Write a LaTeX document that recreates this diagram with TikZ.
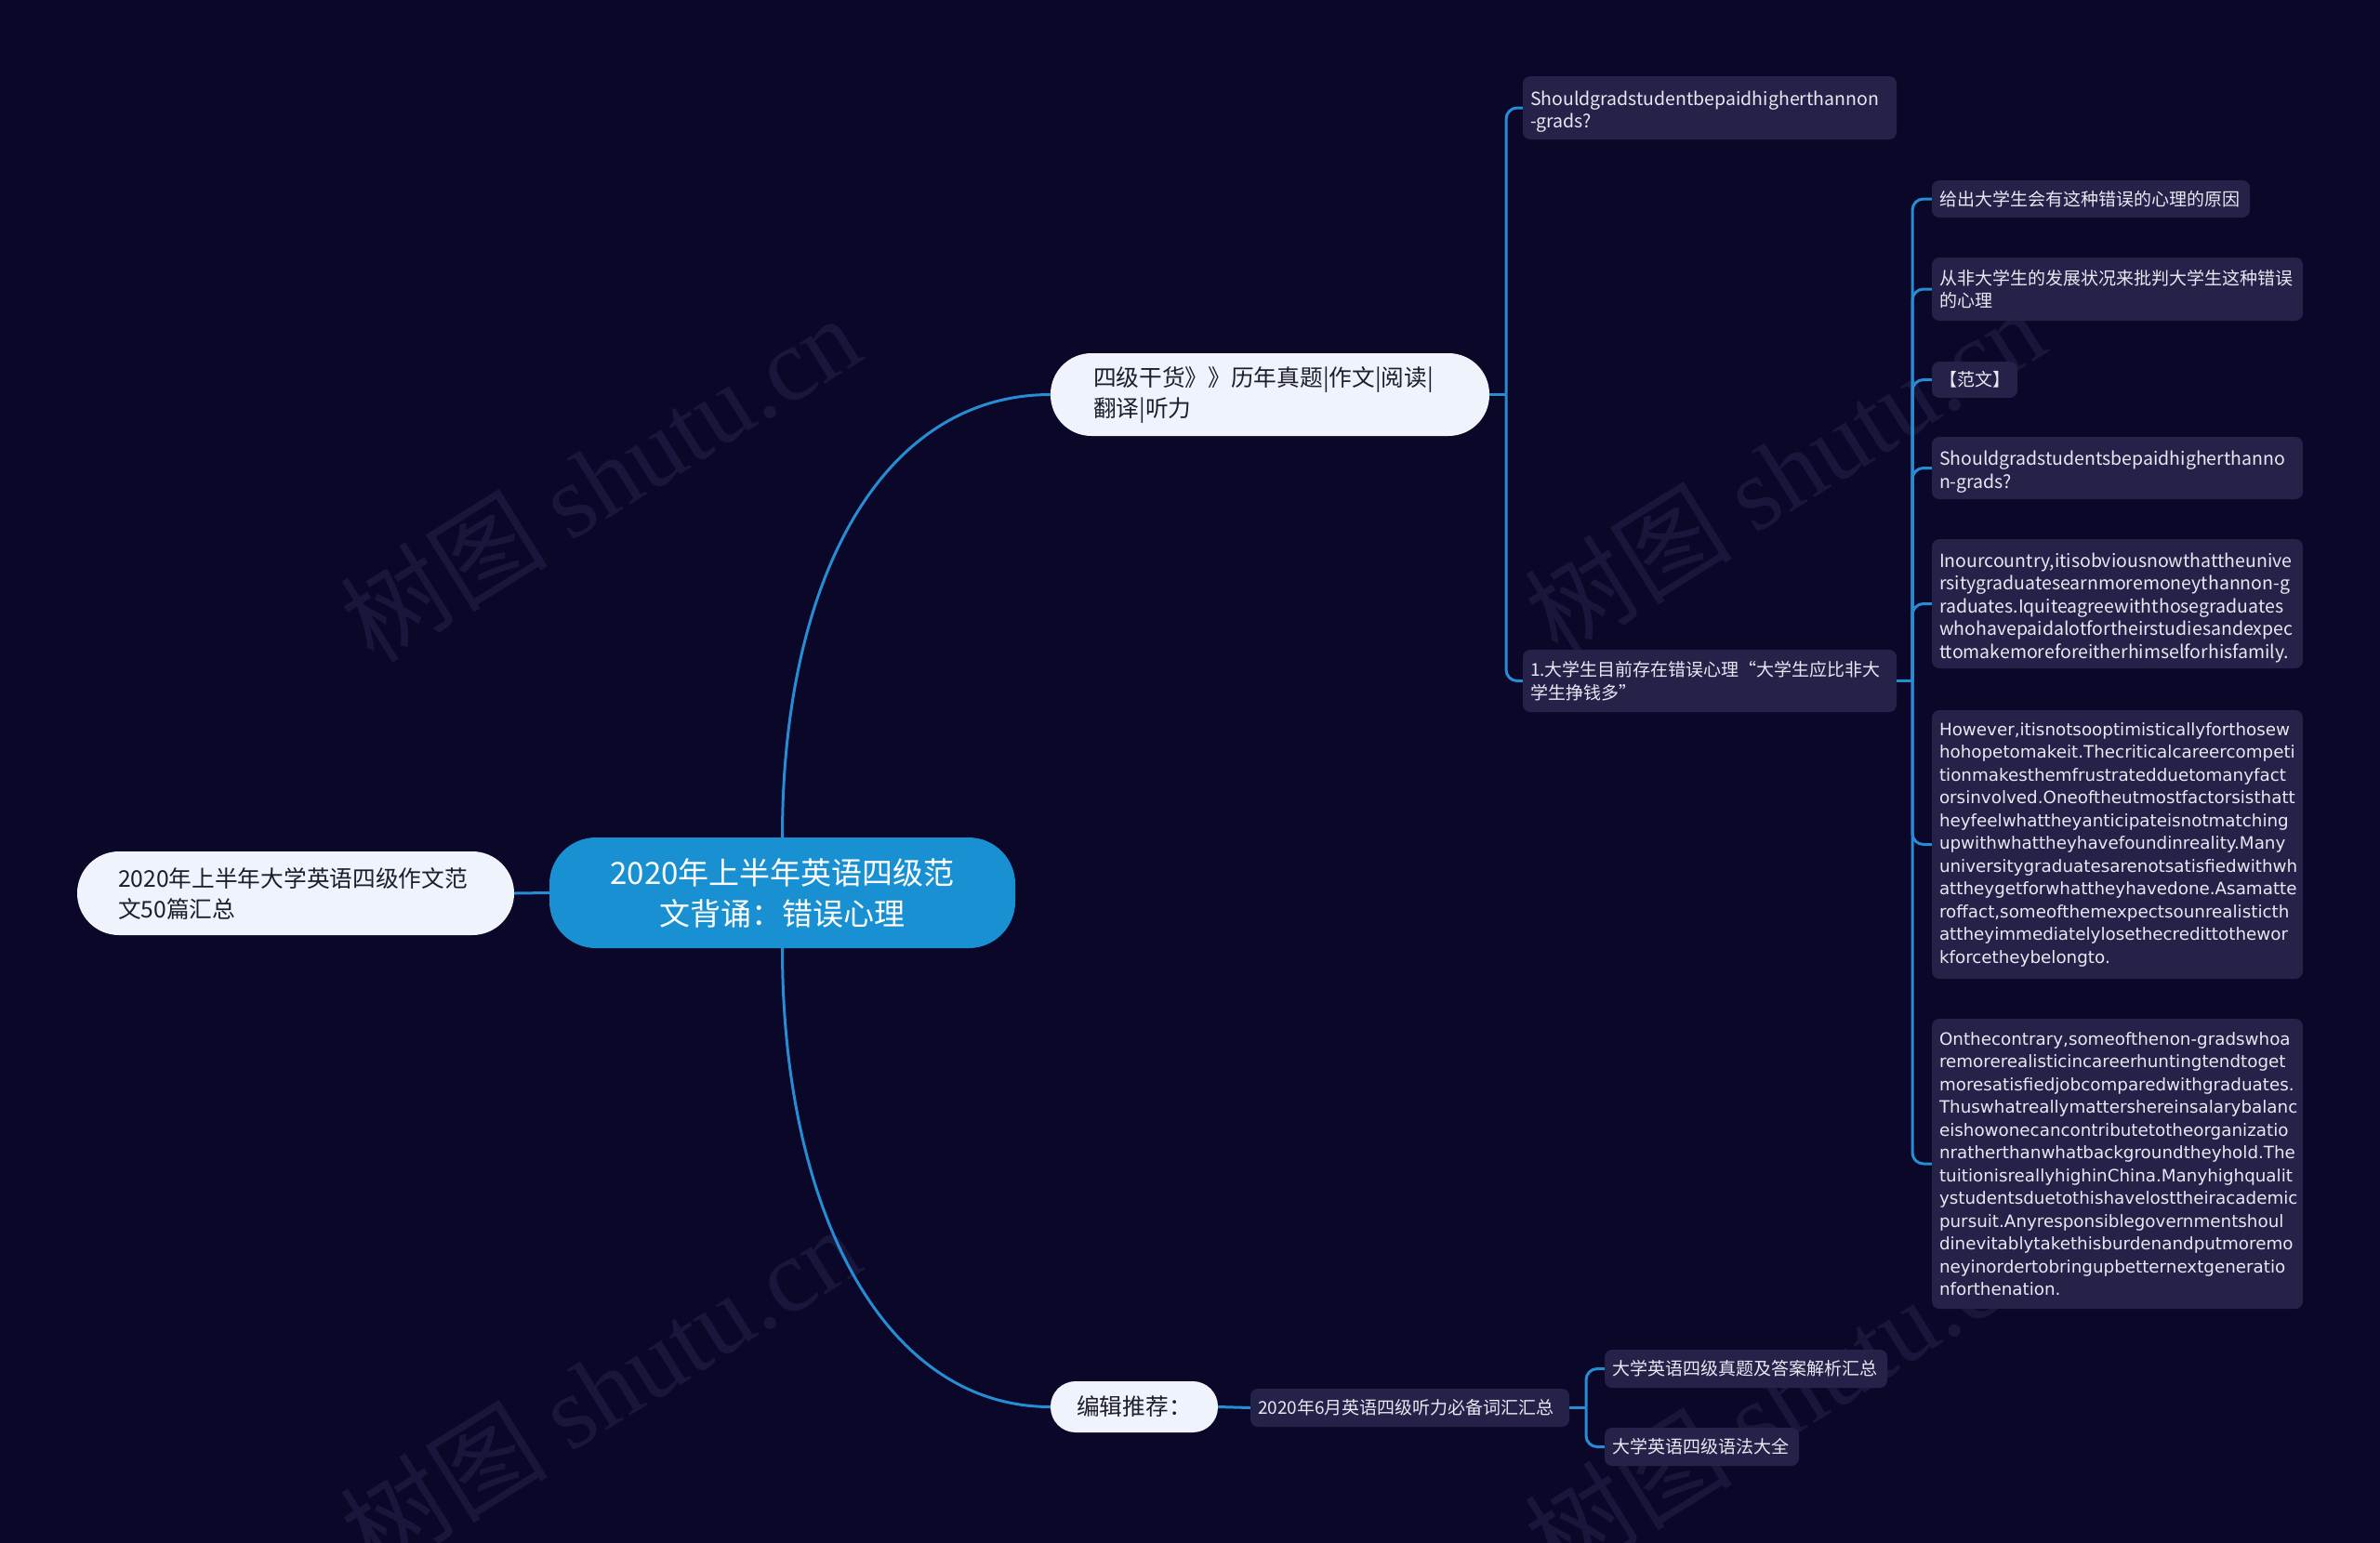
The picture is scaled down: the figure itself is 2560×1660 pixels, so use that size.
\documentclass[tikz,border=0pt]{standalone}
\usepackage{fontspec}
\setmainfont{Noto Sans CJK SC}
\newfontfamily\dvs{DejaVu Sans}
\newfontfamily\wmserif{Liberation Serif}
\definecolor{bgc}{RGB}{10,7,40}
\definecolor{boxc}{RGB}{37,34,74}
\definecolor{boxtext}{RGB}{232,232,242}
\definecolor{lightc}{RGB}{238,243,252}
\definecolor{darktext}{RGB}{30,30,40}
\definecolor{centralc}{RGB}{24,144,210}
\definecolor{lineblue}{RGB}{38,140,212}
\definecolor{wmc}{RGB}{24,22,58}
\newcommand\dnstrut{\rule{0pt}{24pt}}
\begin{document}
\begin{tikzpicture}[x=1pt,y=-1pt,
  conn/.style={draw=lineblue, line width=3pt},
  brk/.style={draw=lineblue, line width=3pt, rounded corners=12pt},
  darkbox/.style={fill=boxc, rounded corners=8pt, text=boxtext, align=left,
    inner xsep=8pt, inner ysep=0pt, anchor=center,
    font=\fontsize{19}{24.5}\selectfont},
  latbox/.style={darkbox, font=\fontsize{19.5}{24.5}\selectfont},
  engbox/.style={darkbox, font=\dvs\fontsize{18.3}{24.5}\selectfont},
  lightnode/.style={fill=lightc, text=darktext, align=left, inner ysep=0pt,
    anchor=center, font=\fontsize{24.7}{33}\selectfont},
  wm/.style={text=wmc, rotate=32, font=\fontsize{112}{116}\selectfont}
]
\fill[bgc] (0,0) rectangle (2560,1660);
\useasboundingbox (0,0) rectangle (2560,1660);

% watermarks
\node[wm] (w1) at (645,514) {树图 {\wmserif shutu.cn}};
\node[wm] (w2) at (1919,506) {树图 {\wmserif shutu.cn}};
\node[wm] (w3) at (645,1494) {树图 {\wmserif shutu.cn}};
\node[wm] (w4) at (1919,1502) {树图 {\wmserif shutu.cn}};

% central
\node[fill=centralc, text=white, rounded corners=50pt, minimum width=501pt,
  minimum height=119pt, align=center, inner sep=0pt,
  font=\fontsize{33}{44}\selectfont] (c) at (841.5,960.5)
  {2020年上半年英语四级范\\文背诵：错误心理};

% level 1
\node[lightnode, rounded corners=45pt, minimum height=90pt, text width=382pt,
  inner xsep=44pt] (L) at (318,961)
  {2020年上半年大学英语四级作文范\\文50篇汇总};
\node[lightnode, rounded corners=44pt, minimum height=89pt, text width=380pt,
  inner xsep=46pt] (T) at (1366,424.5)
  {四级干货》》历年真题|作文|阅读|\\翻译|听力};
\node[lightnode, rounded corners=27pt, minimum height=55pt, minimum width=180pt,
  align=center, inner xsep=0pt] (B) at (1220,1513.5) {编辑推荐：};

% level 2
\node[latbox, text width=386pt, minimum height=68pt] (T1) at (1839,116)
  {\dnstrut Shouldgradstudentbepaidhigherthannon\\-grads?};
\node[darkbox, text width=386pt, minimum height=67pt] (T2) at (1839,732.5)
  {1.大学生目前存在错误心理“大学生应比非大\\学生挣钱多”};
\node[darkbox, text width=327pt, minimum height=41pt] (B1) at (1516.5,1514.5)
  {2020年6月英语四级听力必备词汇汇总};

% level 3
\node[darkbox, text width=326pt, minimum height=40pt] (Na) at (2249,214)
  {给出大学生会有这种错误的心理的原因};
\node[darkbox, text width=383pt, minimum height=68pt] (Nb) at (2277.5,311)
  {从非大学生的发展状况来批判大学生这种错误\\的心理};
\node[darkbox, text width=76pt, minimum height=39pt] (Nc) at (2124,408.5)
  {【范文】};
\node[latbox, text width=383pt, minimum height=67pt] (Nd) at (2277.5,503.5)
  {\dnstrut Shouldgradstudentsbepaidhigherthanno\\n-grads?};
\node[latbox, text width=383pt, minimum height=139pt] (Ne) at (2277.5,649.5)
  {\dnstrut Inourcountry,itisobviousnowthattheunive\\
   rsitygraduatesearnmoremoneythannon-g\\
   raduates.Iquiteagreewiththosegraduates\\
   whohavepaidalotfortheirstudiesandexpec\\
   ttomakemoreforeitherhimselforhisfamily.};
\node[engbox, text width=383pt, minimum height=289pt] (Nf) at (2277.5,908.5)
  {However,itisnotsooptimisticallyforthosew\\
   hohopetomakeit.Thecriticalcareercompeti\\
   tionmakesthemfrustratedduetomanyfact\\
   orsinvolved.Oneoftheutmostfactorsisthatt\\
   heyfeelwhattheyanticipateisnotmatching\\
   upwithwhattheyhavefoundinreality.Many\\
   universitygraduatesarenotsatisfiedwithwh\\
   attheygetforwhattheyhavedone.Asamatte\\
   roffact,someofthemexpectsounrealisticth\\
   attheyimmediatelylosethecredittothewor\\
   kforcetheybelongto.};
\node[engbox, text width=383pt, minimum height=312pt] (Ng) at (2277.5,1252)
  {Onthecontrary,someofthenon-gradswhoa\\
   remorerealisticincareerhuntingtendtoget\\
   moresatisfiedjobcomparedwithgraduates.\\
   Thuswhatreallymattershereinsalarybalanc\\
   eishowonecancontributetotheorganizatio\\
   nratherthanwhatbackgroundtheyhold.The\\
   tuitionisreallyhighinChina.Manyhighqualit\\
   ystudentsduetothishavelosttheiracademic\\
   pursuit.Anyresponsiblegovernmentshoul\\
   dinevitablytakethisburdenandputmoremo\\
   neyinordertobringupbetternextgeneratio\\
   nforthenation.};
\node[darkbox, text width=288pt, minimum height=41pt] (Bx) at (1878,1472.5)
  {大学英语四级真题及答案解析汇总};
\node[darkbox, text width=193pt, minimum height=41pt] (By) at (1830.5,1556.5)
  {大学英语四级语法大全};

% connectors from central
\draw[conn] (c.west) -- (L.east);
\draw[conn] (c.north) .. controls (841.5,620) and (950,424.5) .. (T.west);
\draw[conn] (c.south) .. controls (841.5,1301) and (950,1513.5) .. (B.west);

% top branch bracket
\coordinate (kT) at (1620,424.5);
\draw[conn] (T.east) -- (kT);
\draw[brk] (kT) |- (T1.west);
\draw[brk] (kT) |- (T2.west);

% second bracket
\coordinate (kT2) at (2057,732.5);
\draw[conn] (T2.east) -- (kT2);
\foreach \n in {Na,Nb,Nc,Nd,Ne,Nf,Ng}{
  \draw[brk] (kT2) |- (\n.west);
}

% bottom branch
\draw[conn] (B.east) -- (B1.west);
\coordinate (kB) at (1706,1514.5);
\draw[conn] (B1.east) -- (kB);
\draw[brk] (kB) |- (Bx.west);
\draw[brk] (kB) |- (By.west);
\end{tikzpicture}
\end{document}
